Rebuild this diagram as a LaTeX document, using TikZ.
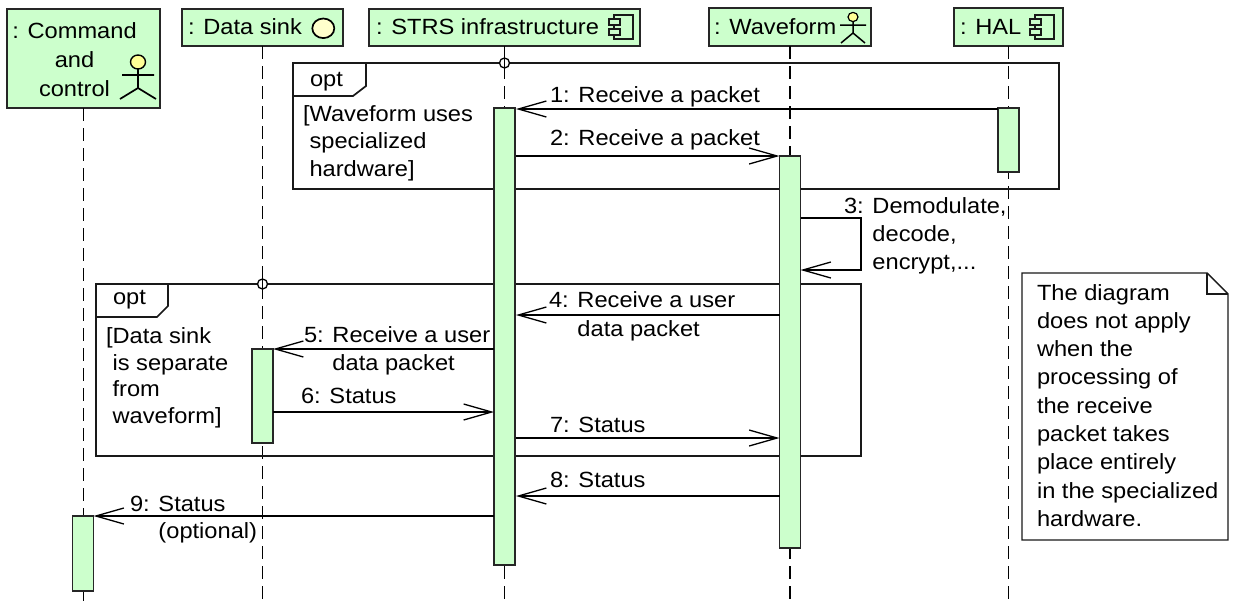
\documentclass[tikz,border=0pt]{standalone}
\usepackage{fontspec}
\setmainfont{Liberation Sans}[FakeStretch=1.075]
\usetikzlibrary{arrows.meta}
\definecolor{actgreen}{RGB}{204,255,204}
\definecolor{headyellow}{RGB}{255,255,150}
\definecolor{sinkyellow}{RGB}{255,255,204}
\newcommand{\compicon}[1]{%
  \begin{scope}[shift={#1}]
    \draw[line width=1.3pt, draw=black!90, fill=actgreen] (0,0) rectangle (19,24);
    \draw[line width=1.2pt, draw=black!90, fill=actgreen] (-5,4) rectangle (6,10);
    \draw[line width=1.2pt, draw=black!90, fill=actgreen] (-5,14) rectangle (6,20);
  \end{scope}}
\begin{document}
\begin{tikzpicture}[x=1pt,y=-1pt,
  every node/.style={inner sep=0pt, outer sep=0pt, font=\fontsize{22}{27.5}\selectfont},
  lbl/.style={anchor=base west},
  clbl/.style={anchor=base},
  headbox/.style={draw=black!85, line width=1.9pt, fill=actgreen, anchor=north west},
  lifeline/.style={draw=black, line width=1.8pt, dash pattern=on 13pt off 7pt},
  frameline/.style={draw=black!90, line width=1.7pt},
  act/.style={draw=black!85, line width=1.7pt, fill=actgreen, anchor=north west, minimum width=21pt},
  tipstyle/.style={-{Straight Barb[length=28pt,width=16pt,line width=1.3pt]}},
  thickmsg/.style={draw=black, line width=2.3pt, tipstyle},
  thinmsg/.style={draw=black, line width=1.3pt, tipstyle},
  notebox/.style={draw=black!90, line width=1.4pt, fill=white},
]
\useasboundingbox (0,0) rectangle (1233,603);
\fill[white] (0,0) rectangle (1233,603);

% ---------------- headers ----------------
\node[headbox, minimum width=153pt, minimum height=99pt] (cc) at (7,9) {};
\node[headbox, minimum width=161pt, minimum height=37pt] (ds) at (182,9) {};
\node[headbox, minimum width=271pt, minimum height=37pt] (strs) at (369,9) {};
\node[headbox, minimum width=162pt, minimum height=38pt] (wf) at (709,8) {};
\node[headbox, minimum width=109pt, minimum height=38pt] (hal) at (954,8) {};

\node[clbl] (cct1) at (74.5,38) {: Command};
\node[clbl] (cct2) at (74.5,67) {and};
\node[clbl] (cct3) at (74.5,96) {control};
\node[lbl] (dst) at (188,34.5) {: Data sink};
\node[lbl] (strst) at (376,34.5) {: STRS infrastructure};
\node[lbl] (wft) at (714,34.5) {: Waveform};
\node[lbl] (halt) at (960,34.5) {: HAL};

% actor icon (command and control)
\draw[line width=1.4pt, fill=headyellow] (138,62) ellipse [x radius=7.5, y radius=7];
\draw[line width=1.7pt] (122,75) -- (154,75) (138,69) -- (138,88) (120,99) -- (138,88) -- (156,99);
% actor icon (waveform)
\draw[line width=1.2pt, fill=headyellow] (853,17) ellipse [x radius=5, y radius=4.6];
\draw[line width=1.5pt] (840,25) -- (866,25) (853,21.6) -- (853,33) (841,43) -- (853,33) -- (865,43);
% data sink circle
\draw[line width=1.7pt, fill=sinkyellow] (323.3,28.3) ellipse [x radius=11, y radius=9.8];
% component icons
\compicon{(614,15)}
\compicon{(1035,15)}

% ---------------- lifelines ----------------
\coordinate (ccend) at (83.5,603);
\coordinate (dsend) at (262.5,603);
\coordinate (strsend) at (504.5,603);
\coordinate (wfend) at (790,603);
\coordinate (halend) at (1008.5,603);
\draw[lifeline] (cc.south) -- (ccend);
\draw[lifeline] (ds.south) -- (dsend);
\draw[lifeline] (strs.south) -- (strsend);
\draw[lifeline] (wf.south) -- (wfend);
\draw[lifeline] (hal.south) -- (halend);

% ---------------- combined fragments ----------------
\draw[frameline] (293,63) rectangle (1059,189);
\draw[frameline] (293,96) -- (353,96) -- (366,86) -- (366,63);
\node[lbl] (opt1) at (310,86) {opt};
\node[lbl] (g1a) at (303,121) {[Waveform uses};
\node[lbl] (g1b) at (303,148) {\phantom{[}specialized};
\node[lbl] (g1c) at (303,176) {\phantom{[}hardware]};
\draw[line width=1.3pt, fill=white] (504.5,63) circle [radius=5];
\draw[line width=1.4pt] (504.5,55) -- (504.5,71);

\draw[frameline] (96,284) rectangle (861,456);
\draw[frameline] (96,317) -- (157,317) -- (168,306) -- (168,284);
\node[lbl] (opt2) at (113,304) {opt};
\node[lbl] (g2a) at (106,343) {[Data sink};
\node[lbl] (g2b) at (106,370) {\phantom{[}is separate};
\node[lbl] (g2c) at (106,396) {\phantom{[}from};
\node[lbl] (g2d) at (106,423) {\phantom{[}waveform]};
\draw[line width=1.3pt, fill=white] (262.5,284) circle [radius=5];
\draw[line width=1.4pt] (262.5,276) -- (262.5,292);

% ---------------- activations ----------------
\node[act, minimum height=457pt] (strsact) at (494,108) {};
\node[act, minimum height=64pt] (halact) at (998,108) {};
\node[act, minimum height=392pt] (wfact) at (779.5,156) {};
\node[act, minimum height=94pt] (dsact) at (252,349) {};
\node[act, minimum height=75pt] (ccact) at (72.5,516) {};

% ---------------- messages ----------------
\coordinate (m1a) at (998,109);   \coordinate (m1b) at (516,109);
\coordinate (m2a) at (516,156);   \coordinate (m2b) at (779.5,156);
\coordinate (m3a) at (800.5,218); \coordinate (m3b) at (861,218);
\coordinate (m3c) at (861,270);   \coordinate (m3d) at (800.5,270);
\coordinate (m4a) at (779.5,315); \coordinate (m4b) at (516,315);
\coordinate (m5a) at (494,349);   \coordinate (m5b) at (273,349);
\coordinate (m6a) at (273,412);   \coordinate (m6b) at (494,412);
\coordinate (m7a) at (516,438);   \coordinate (m7b) at (779.5,438);
\coordinate (m8a) at (779.5,496); \coordinate (m8b) at (516,496);
\coordinate (m9a) at (494,516);   \coordinate (m9b) at (93.5,516);

\draw[thinmsg] (m1a) -- (m1b);
\draw[thickmsg] (m2a) -- (m2b);
\draw[thinmsg] (m3a) -- (m3b) -- (m3c) -- (m3d);
\draw[thickmsg] (m4a) -- (m4b);
\draw[thickmsg] (m5a) -- (m5b);
\draw[thinmsg] (m6a) -- (m6b);
\draw[thickmsg] (m7a) -- (m7b);
\draw[thickmsg] (m8a) -- (m8b);
\draw[thickmsg] (m9a) -- (m9b);

\node[lbl] (l1) at (550,102) {1: Receive a packet};
\node[lbl] (l2) at (550,145) {2: Receive a packet};
\node[lbl] (l3a) at (844,213) {3: Demodulate,};
\node[lbl] (l3b) at (844,241) {\phantom{3: }decode,};
\node[lbl] (l3c) at (844,269) {\phantom{3: }encrypt,...};
\node[lbl] (l4a) at (549,307) {4: Receive a user};
\node[lbl] (l4b) at (549,336) {\phantom{4: }data packet};
\node[lbl] (l5a) at (304,342) {5: Receive a user};
\node[lbl] (l5b) at (304,370) {\phantom{5: }data packet};
\node[lbl] (l6) at (301,403) {6: Status};
\node[lbl] (l7) at (550,432) {7: Status};
\node[lbl] (l8) at (550,487) {8: Status};
\node[lbl] (l9a) at (130,511) {9: Status};
\node[lbl] (l9b) at (130,538) {\phantom{9: }(optional)};

% ---------------- note ----------------
\draw[notebox] (1022,273) -- (1207,273) -- (1228,294) -- (1228,540) -- (1022,540) -- cycle;
\draw[line width=1.3pt, draw=black!90] (1207,273) -- (1207,294) -- (1228,294);
\node[lbl] (n1) at (1037,300) {The diagram};
\node[lbl] (n2) at (1037,328.3) {does not apply};
\node[lbl] (n3) at (1037,356.6) {when the};
\node[lbl] (n4) at (1037,384.9) {processing of};
\node[lbl] (n5) at (1037,413.2) {the receive};
\node[lbl] (n6) at (1037,441.5) {packet takes};
\node[lbl] (n7) at (1037,469.8) {place entirely};
\node[lbl] (n8) at (1037,498.1) {in the specialized};
\node[lbl] (n9) at (1037,526.4) {hardware.};
\end{tikzpicture}
\end{document}
